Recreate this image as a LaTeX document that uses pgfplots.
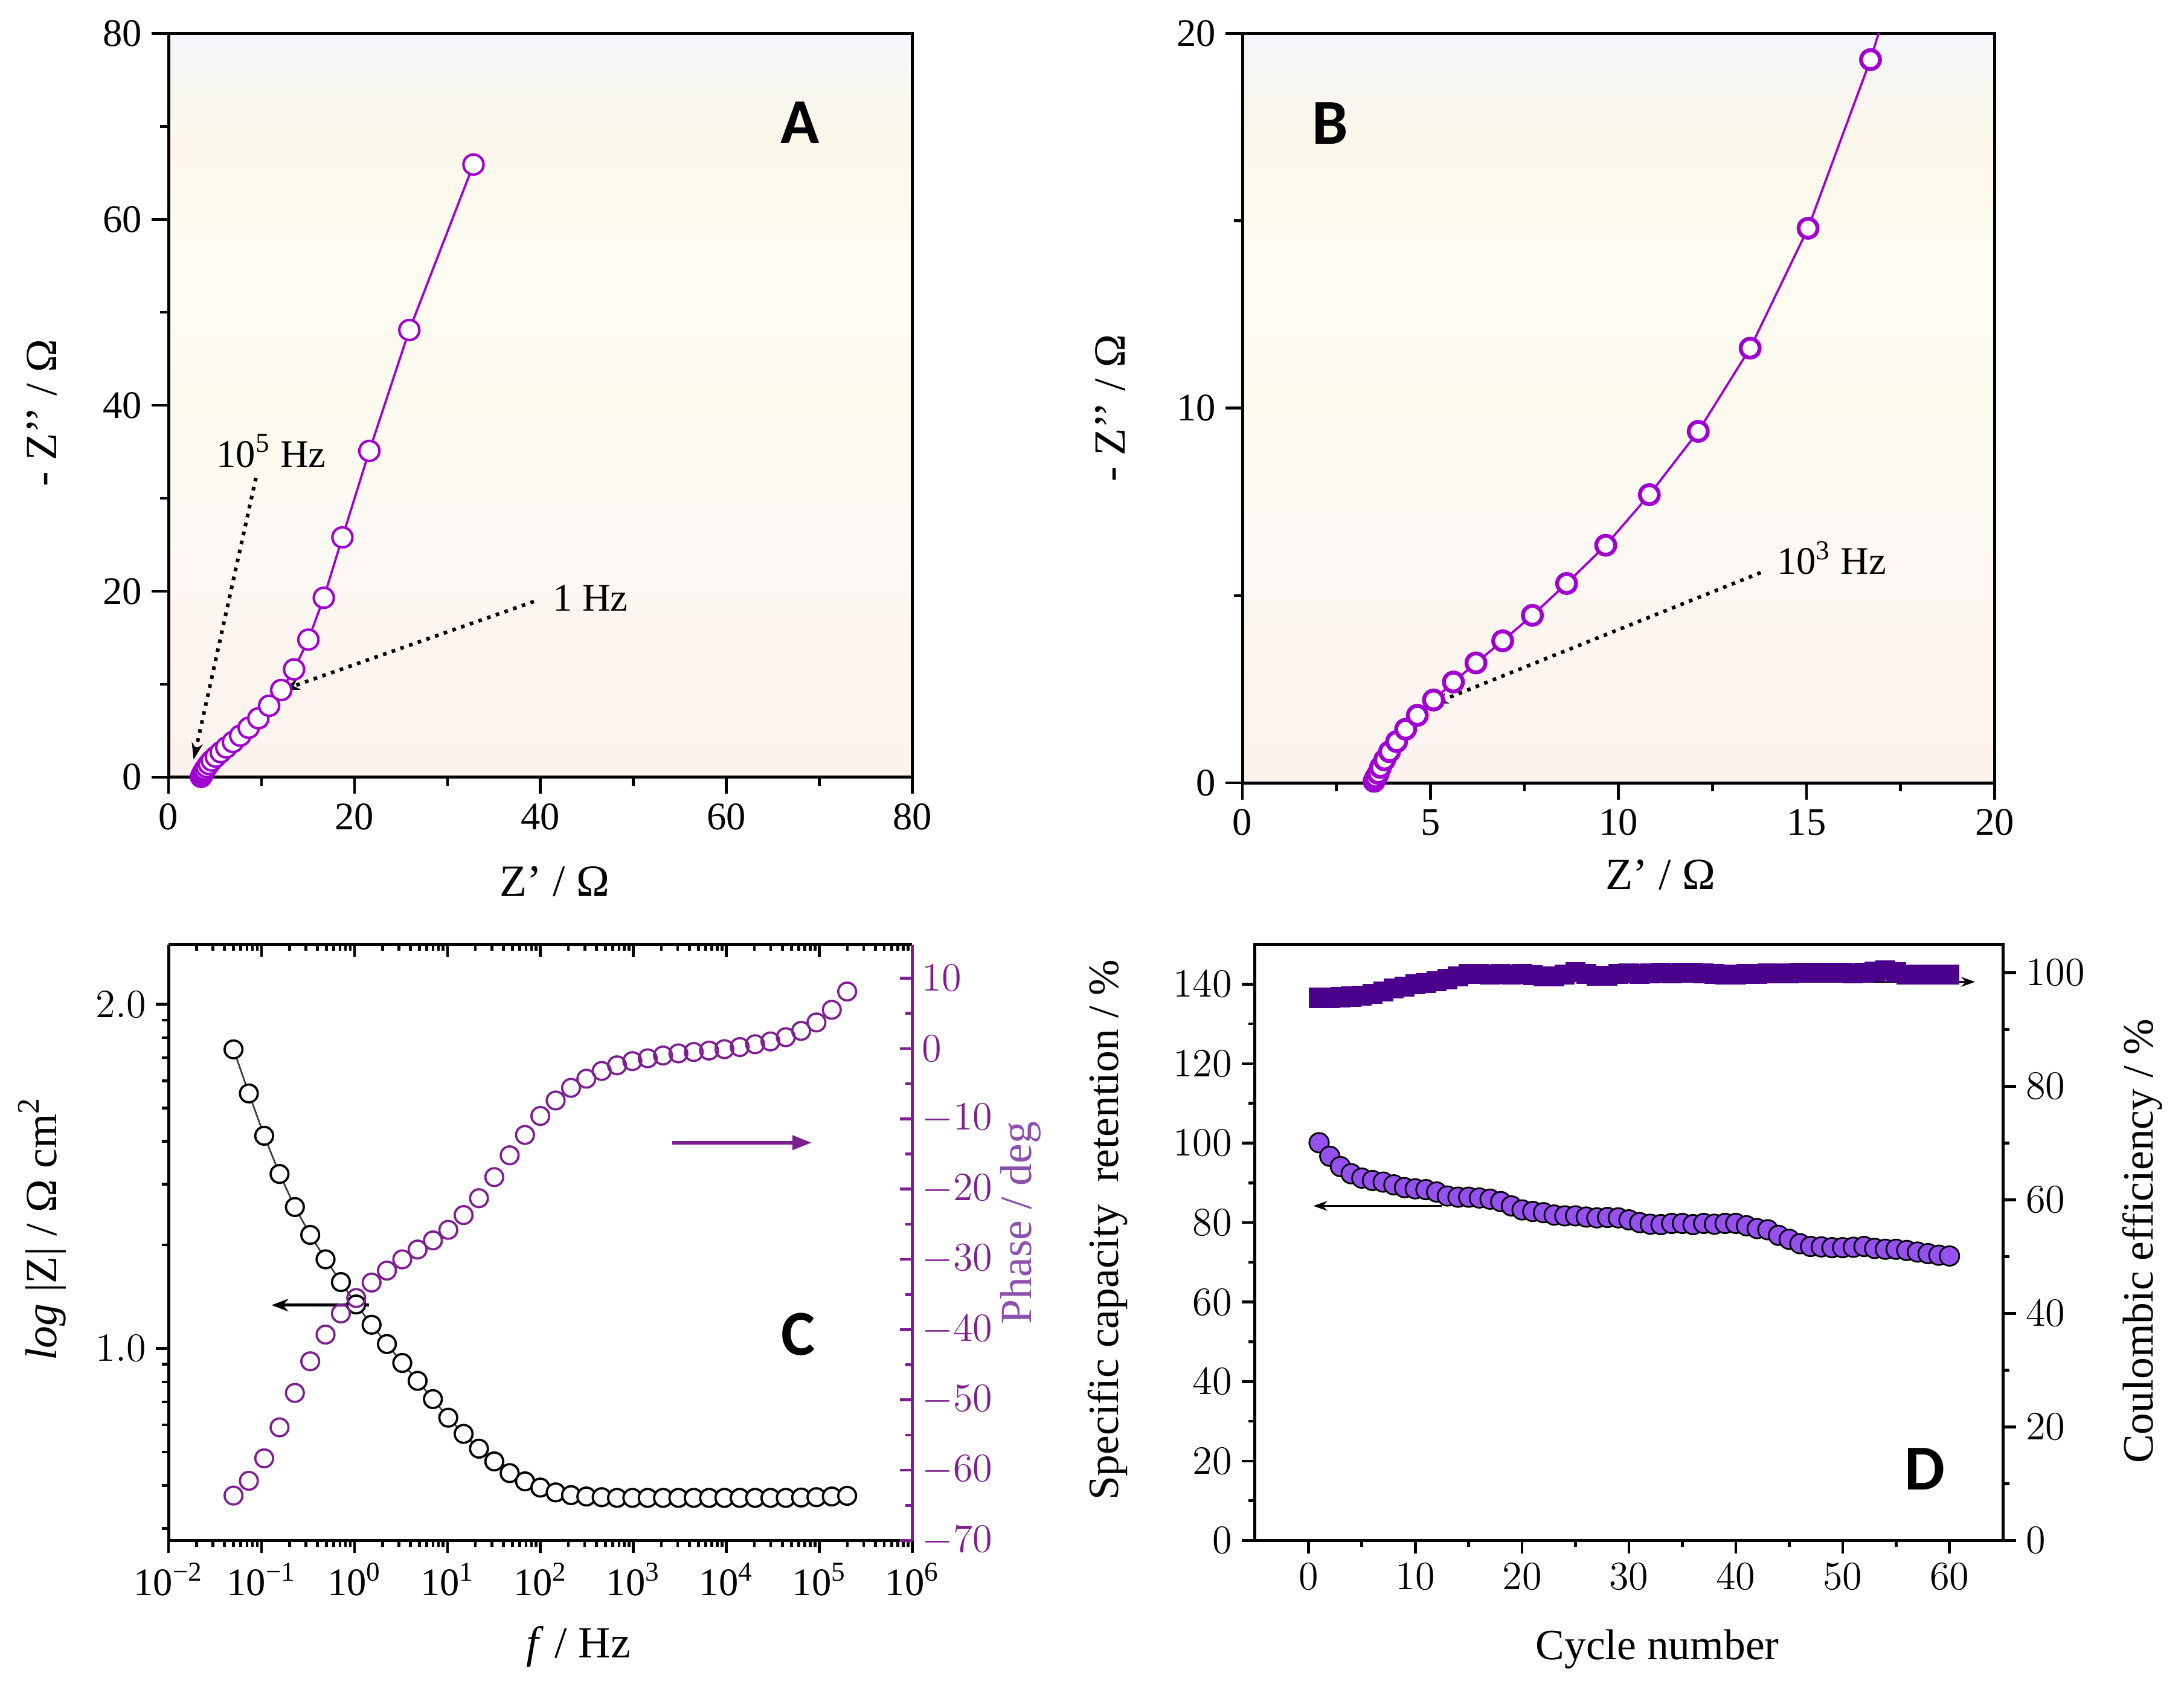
\documentclass[border=0pt]{standalone}
\usepackage{fontspec}
\setmainfont{Liberation Serif}
\newfontfamily\letterfont{Carlito}
\usepackage{pgfplots}
\usepackage{pgfplotstable}
\pgfplotsset{compat=1.18}
\usetikzlibrary{arrows.meta}

\definecolor{nyq}{RGB}{160,0,210}
\definecolor{bg0}{RGB}{252,243,238}
\definecolor{bg1}{RGB}{252,245,240}
\definecolor{bg2}{RGB}{253,250,245}
\definecolor{bg3}{RGB}{253,250,238}
\definecolor{bg4}{RGB}{254,252,241}
\definecolor{bg5}{RGB}{251,247,233}
\definecolor{bg6}{RGB}{247,246,240}
\definecolor{bg7}{RGB}{243,246,251}
\pgfdeclareverticalshading{nyqbg}{100bp}{color(0bp)=(bg0); color(25bp)=(bg0);
  color(35bp)=(bg1); color(42.5bp)=(bg2); color(50bp)=(bg3); color(60bp)=(bg4);
  color(67.5bp)=(bg5); color(71.5bp)=(bg6); color(75bp)=(bg7); color(100bp)=(bg7)}
\definecolor{phs}{RGB}{125,30,145}
\definecolor{phslab}{RGB}{140,80,175}
\definecolor{capfill}{RGB}{150,80,240}
\definecolor{cefill}{RGB}{75,0,140}

\newcommand\tfont{\fontsize{14}{16}\selectfont}
\newcommand\cfont{\fontsize{14}{16}\selectfont}
\newcommand\lfont{\fontsize{16}{19}\selectfont}
\newcommand\pfont{\letterfont\bfseries\fontsize{23}{26}\selectfont}

% Nyquist data (A and B)
\pgfplotstableread{
x y
3.44 -0.12
3.46 -0.04
3.50 0.04
3.54 0.13
3.61 0.25
3.67 0.41
3.78 0.61
3.91 0.83
4.10 1.10
4.34 1.43
4.65 1.80
5.08 2.21
5.61 2.69
6.21 3.20
6.92 3.79
7.71 4.47
8.62 5.32
9.66 6.34
10.82 7.69
12.12 9.38
13.50 11.60
15.04 14.80
16.70 19.30
18.70 25.80
21.60 35.10
25.90 48.10
32.80 65.90
}\nyqtab

% Bode data (C): lf = log10(f / Hz)
\pgfplotstableread{
lf logz ph
-1.301 1.869 -63.6
-1.136 1.741 -61.5
-0.971 1.618 -58.3
-0.806 1.507 -53.9
-0.641 1.411 -49.0
-0.476 1.330 -44.5
-0.311 1.259 -40.7
-0.146 1.193 -37.7
0.019 1.128 -35.5
0.184 1.069 -33.3
0.349 1.013 -31.6
0.514 0.958 -30.0
0.679 0.906 -28.6
0.844 0.853 -27.3
1.009 0.799 -25.8
1.174 0.752 -23.7
1.339 0.709 -21.3
1.504 0.672 -18.3
1.669 0.638 -15.2
1.834 0.614 -12.3
1.999 0.596 -9.6
2.164 0.582 -7.4
2.329 0.574 -5.6
2.494 0.570 -4.3
2.659 0.568 -3.2
2.824 0.566 -2.4
2.989 0.566 -1.8
3.154 0.566 -1.4
3.319 0.566 -1.0
3.484 0.566 -0.7
3.649 0.566 -0.5
3.814 0.566 -0.3
3.979 0.566 -0.1
4.144 0.566 0.2
4.309 0.566 0.6
4.474 0.566 1.0
4.639 0.566 1.6
4.804 0.567 2.5
4.969 0.568 3.7
5.134 0.570 5.5
5.299 0.572 8.1
}\bodetab

% cycling data (D)
\pgfplotstableread{
c r e
1 100.1 95.6
2 96.7 95.6
3 94.1 95.7
4 92.3 95.8
5 91.2 96.0
6 90.6 96.3
7 90.2 96.7
8 89.5 97.2
9 88.8 97.6
10 88.5 98.0
11 88.3 98.2
12 87.7 98.5
13 86.7 98.9
14 86.4 99.4
15 86.4 99.8
16 86.2 99.8
17 85.9 99.7
18 85.3 99.8
19 84.2 99.7
20 83.2 99.8
21 82.8 99.6
22 82.5 99.4
23 81.9 99.4
24 81.7 99.7
25 81.7 100.1
26 81.4 99.8
27 81.2 99.5
28 81.3 99.5
29 81.2 99.8
30 80.7 99.9
31 80.0 99.8
32 79.6 99.9
33 79.5 100.0
34 79.8 99.9
35 79.8 100.0
36 79.5 100.0
37 79.8 99.9
38 79.6 99.8
39 79.8 99.7
40 79.8 99.7
41 79.2 99.8
42 78.5 99.8
43 78.2 99.9
44 76.8 99.9
45 75.8 99.9
46 74.7 100.0
47 74.0 100.0
48 73.9 100.0
49 73.7 100.0
50 73.7 100.0
51 73.8 99.9
52 74.0 100.0
53 73.5 100.2
54 73.3 100.4
55 73.3 100.1
56 73.0 99.7
57 72.6 99.7
58 72.2 99.7
59 71.8 99.7
60 71.6 99.7
}\cyctab

\pgfplotsset{
  panel/.style={scale only axis, anchor=south west,
    axis line style={line width=1.1pt},
    tick style={line width=1pt, black},
    label style={font=\lfont}},
  nyqbox/.style={panel, xtick pos=left, ytick pos=left, tick align=outside,
    major tick length=6pt, minor tick length=3pt,
    ticklabel style={font=\tfont, /pgf/number format/assume math mode=true},
    axis background/.style={shade, shading=nyqbg}},
  decades/.style={xmin=-2, xmax=6, xtick={-2,...,6},
    minor xtick={-1.699,-1.523,-1.398,-1.301,-1.222,-1.155,-1.097,-1.046,
      -0.699,-0.523,-0.398,-0.301,-0.222,-0.155,-0.097,-0.046,
      0.301,0.477,0.602,0.699,0.778,0.845,0.903,0.954,
      1.301,1.477,1.602,1.699,1.778,1.845,1.903,1.954,
      2.301,2.477,2.602,2.699,2.778,2.845,2.903,2.954,
      3.301,3.477,3.602,3.699,3.778,3.845,3.903,3.954,
      4.301,4.477,4.602,4.699,4.778,4.845,4.903,4.954,
      5.301,5.477,5.602,5.699,5.778,5.845,5.903,5.954}},
}

\begin{document}
\begin{tikzpicture}[x=1pt,y=1pt]
\path[use as bounding box] (0,0) rectangle (784,605.5);

% ---------------- A ----------------
\begin{axis}[nyqbox, at={(60.5pt,326.5pt)}, width=267pt, height=267pt,
  xmin=0, xmax=80, ymin=0, ymax=80,
  xtick={0,20,40,60,80}, ytick={0,20,40,60,80},
  minor xtick={10,30,50,70}, minor ytick={10,30,50,70},
  xlabel={Z’ / Ω}, ylabel={- Z’’ / Ω},
  xlabel style={at={(axis description cs:0.519,-0.140)}, anchor=center},
  ylabel style={at={(axis description cs:-0.170,0.49)}, anchor=center},
]
\addplot[color=nyq, line width=0.8pt, mark=*, mark size=3.6pt,
  mark options={fill=white, draw=nyq, line width=0.9pt}] table[x=x,y=y] {\nyqtab};
\draw[dotted, line width=1.3pt, -{Stealth[length=6pt,width=4pt]}]
  (axis cs:9.4,32.2) -- (axis cs:2.7,1.9);
\draw[dotted, line width=1.3pt, -{Stealth[length=6pt,width=4pt]}]
  (axis cs:39.3,18.9) -- (axis cs:12.3,9.4);
\node[anchor=west, font=\tfont, inner sep=0pt] at (axis cs:5.1,35.1) {10\textsuperscript{5} Hz};
\node[anchor=west, font=\tfont, inner sep=0pt] at (axis cs:41.3,19.3) {1 Hz};
\node[font=\pfont] at (axis cs:67.9,70.4) {A};
\end{axis}

% ---------------- B ----------------
\begin{axis}[nyqbox, at={(446pt,324.5pt)}, width=270pt, height=269pt,
  xmin=0, xmax=20, ymin=0, ymax=20,
  xtick={0,5,10,15,20}, ytick={0,10,20},
  minor xtick={2.5,7.5,12.5,17.5}, minor ytick={5,15},
  xlabel={Z’ / Ω}, ylabel={- Z’’ / Ω},
  xlabel style={at={(axis description cs:0.556,-0.123)}, anchor=center},
  ylabel style={at={(axis description cs:-0.176,0.50)}, anchor=center},
]
\addplot[color=nyq, line width=0.8pt, mark=*, mark size=3.4pt,
  mark options={fill=white, draw=nyq, line width=1.4pt}] table[x=x,y=y] {\nyqtab};
\draw[dotted, line width=1.3pt, -{Stealth[length=5pt,width=4pt]}]
  (axis cs:13.78,5.61) -- (axis cs:5.1,2.12);
\node[anchor=west, font=\tfont, inner sep=0pt] at (axis cs:14.2,6.0) {10\textsuperscript{3} Hz};
\node[font=\pfont] at (axis cs:2.33,17.6) {B};
\end{axis}

% ---------------- C ----------------
\begin{axis}[panel, decades, at={(60.5pt,52.5pt)}, width=267pt, height=214pt,
  ymin=0.442, ymax=2.174,
  axis x line*=bottom, axis y line*=left, tick align=outside,
  xticklabels={10\textsuperscript{−2},10\textsuperscript{−1},10\textsuperscript{0},
    10\textsuperscript{1},10\textsuperscript{2},10\textsuperscript{3},
    10\textsuperscript{4},10\textsuperscript{5},10\textsuperscript{6}},
  ytick={1,2}, yticklabels={$1.0$,$2.0$},
  minor ytick={0.477,0.602,0.699,0.778,0.845,0.903,0.954,
    1.301,1.477,1.602,1.699,1.778,1.845,1.903,1.954},
  major tick length=4.5pt, minor tick length=2.3pt,
  xticklabel style={font=\tfont}, yticklabel style={font=\cfont},
  xlabel={\textit{f} / Hz}, ylabel={\textit{log} |Z| / Ω cm\textsuperscript{2}},
  xlabel style={at={(axis description cs:0.551,-0.178)}, anchor=center},
  ylabel style={at={(axis description cs:-0.170,0.523)}, anchor=center},
]
\addplot[black!75, line width=0.6pt, mark=*, mark size=3.2pt,
  mark options={fill=white, draw=black, line width=0.8pt}] table[x=lf,y=logz] {\bodetab};
\draw[line width=1pt, -{Stealth[length=6pt,width=4.5pt]}]
  (axis cs:0.157,1.126) -- (axis cs:-0.891,1.126);
\node[font=\pfont] at (axis cs:4.77,1.041) {C};
\end{axis}
% top frame of C with inward ticks
\begin{axis}[panel, decades, at={(60.5pt,52.5pt)}, width=267pt, height=214pt,
  ymin=0, ymax=1, axis x line*=top, hide y axis, tick align=inside,
  xticklabels={}, major tick length=4.5pt, minor tick length=2.3pt]
\addplot[draw=none] coordinates {(1,0.5)};
\end{axis}
% phase axis
\begin{axis}[panel, at={(60.5pt,52.5pt)}, width=267pt, height=214pt,
  xmin=-2, xmax=6,
  ymin=-70, ymax=14.8, axis y line*=right, hide x axis, tick align=inside,
  ytick={-70,-60,...,10}, minor ytick={-65,-55,...,5},
  y axis line style={phs, line width=1.1pt},
  tick style={phs, line width=1pt},
  major tick length=4.5pt, minor tick length=2.5pt,
  yticklabel style={phs, font=\cfont},
  ylabel={Phase / deg},
  ylabel style={phslab, at={(axis description cs:1.146,0.533)}, anchor=center},
]
\addplot[only marks, mark=o, mark size=3.2pt, mark options={draw=phs, line width=0.8pt}]
  table[x=lf,y=ph] {\bodetab};
\draw[phs, line width=1.4pt, -{Triangle[length=7pt,width=5pt]}]
  (axis cs:3.42,-13.4) -- (axis cs:4.92,-13.4);
\end{axis}

% ---------------- D ----------------
\begin{axis}[panel, at={(450.5pt,52.5pt)}, width=268.5pt, height=214pt,
  xmin=-5, xmax=65, ymin=0, ymax=150,
  xtick={0,10,...,60}, minor xtick={5,15,...,55},
  ytick={0,20,...,140}, minor ytick={10,30,...,130},
  xtick pos=left, ytick pos=left, tick align=outside,
  major tick length=4.7pt, minor tick length=2.3pt,
  ticklabel style={font=\cfont},
  xlabel={Cycle number}, ylabel={Specific capacity\ \ retention / \%},
  label style={font=\fontsize{15.5}{18}\selectfont},
  xlabel style={at={(axis description cs:0.538,-0.182)}, anchor=center},
  ylabel style={at={(axis description cs:-0.197,0.521)}, anchor=center},
]
\addplot[only marks, mark=*, mark size=3.5pt,
  mark options={fill=capfill, draw=black, line width=0.6pt}] table[x=c,y=r] {\cyctab};
\draw[line width=0.8pt, -{Stealth[length=5pt,width=3.5pt]}]
  (axis cs:12.5,84.2) -- (axis cs:0.46,84.2);
\node[font=\pfont] at (axis cs:57.7,18) {D};
\end{axis}
\begin{axis}[panel, at={(450.5pt,52.5pt)}, width=268.5pt, height=214pt,
  xmin=-5, xmax=65, ymin=0, ymax=105,
  axis y line*=right, hide x axis, tick align=outside,
  ytick={0,20,...,100}, minor ytick={10,30,...,90},
  major tick length=4.7pt, minor tick length=2.3pt,
  yticklabel style={font=\cfont},
  ylabel={Coulombic efficiency / \%},
  label style={font=\fontsize{15.5}{18}\selectfont},
  ylabel style={at={(axis description cs:1.186,0.502)}, anchor=center},
]
\addplot[only marks, mark=square*, mark size=3.4pt,
  mark options={fill=cefill, draw=cefill}] table[x=c,y=e] {\cyctab};
\draw[line width=0.8pt, -{Stealth[length=5pt,width=3.5pt]}]
  (axis cs:46.7,98.4) -- (axis cs:62.4,98.4);
\end{axis}
\end{tikzpicture}
\end{document}
